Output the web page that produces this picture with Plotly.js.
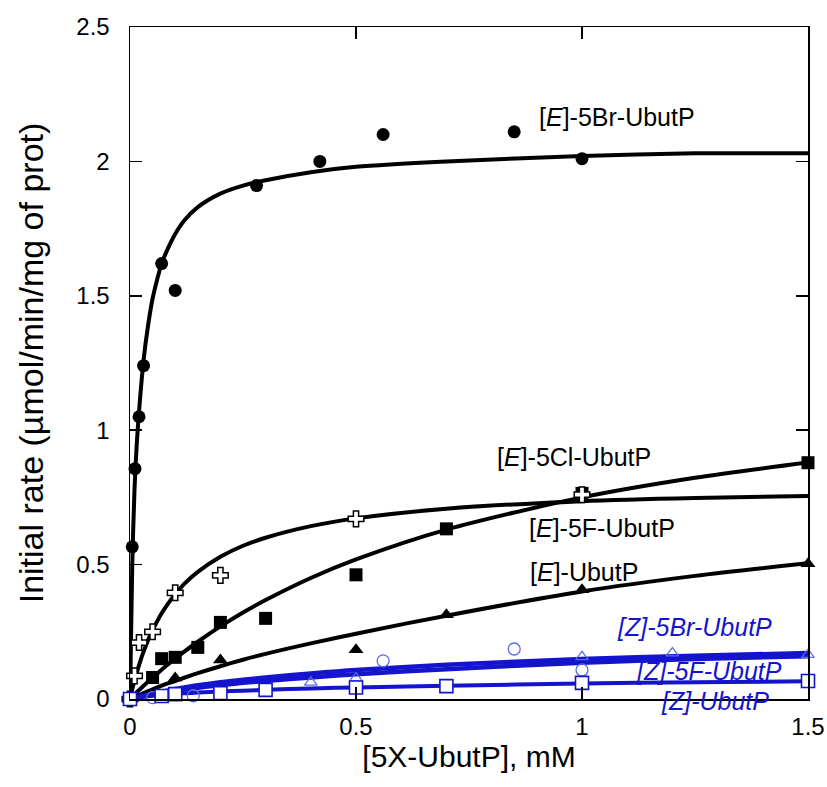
<!DOCTYPE html>
<html>
<head>
<meta charset="utf-8">
<script src="https://cdn.plot.ly/plotly-3.0.1.min.js"></script>
<style>html,body{margin:0;padding:0;background:#fff;}#chart{width:827px;height:787px;}</style>
</head>
<body>
<div id="chart"></div>
<script>
// ---- measured points ----
const br5E_x = [0.005, 0.011, 0.02, 0.03, 0.07, 0.1, 0.28, 0.42, 0.56, 0.85, 1.0];
const br5E_y = [0.566, 0.857, 1.05, 1.24, 1.62, 1.52, 1.91, 2.00, 2.10, 2.11, 2.01];

const cl5E_x = [0, 0.01, 0.02, 0.05, 0.1, 0.2, 0.5, 1.0];
const cl5E_y = [0, 0.086, 0.21, 0.25, 0.395, 0.46, 0.67, 0.76];

const f5E_x = [0, 0.05, 0.07, 0.1, 0.15, 0.2, 0.3, 0.5, 0.7, 1.0, 1.5];
const f5E_y = [0, 0.08, 0.15, 0.155, 0.192, 0.285, 0.30, 0.462, 0.633, 0.765, 0.879];

const hE_x = [0, 0.1, 0.2, 0.5, 0.7, 1.0, 1.5];
const hE_y = [0, 0.078, 0.145, 0.183, 0.313, 0.406, 0.503];

const br5Z_x = [0.05, 0.14, 0.56, 0.85, 1.0];
const br5Z_y = [0.005, 0.012, 0.142, 0.186, 0.108];

const f5Z_x = [0, 0.4, 0.5, 1.0, 1.2, 1.5];
const f5Z_y = [0, 0.062, 0.078, 0.157, 0.171, 0.165];

const hZ_x = [0, 0.07, 0.1, 0.2, 0.3, 0.5, 0.7, 1.0, 1.5];
const hZ_y = [0, 0.011, 0.018, 0.022, 0.034, 0.043, 0.048, 0.060, 0.067];

// ---- fitted curves ----
const fitX      = [0, 0.005, 0.01, 0.015, 0.02, 0.03, 0.04, 0.05, 0.06, 0.07, 0.085, 0.1, 0.12, 0.15, 0.2, 0.25, 0.3, 0.4, 0.5, 0.7, 1.0, 1.25, 1.5];
const br5E_fit  = [0, 0.50, 0.78, 0.95, 1.07, 1.26, 1.39, 1.49, 1.56, 1.62, 1.68, 1.73, 1.78, 1.83, 1.88, 1.91, 1.93, 1.96, 1.98, 2.00, 2.02, 2.03, 2.03];
const cl5E_fit  = [0, 0.036, 0.068, 0.098, 0.126, 0.176, 0.219, 0.256, 0.289, 0.319, 0.357, 0.39, 0.428, 0.473, 0.529, 0.570, 0.60, 0.643, 0.672, 0.708, 0.736, 0.748, 0.755];
const f5E_fit   = [0, 0.008, 0.017, 0.025, 0.033, 0.049, 0.064, 0.079, 0.094, 0.109, 0.130, 0.15, 0.176, 0.213, 0.27, 0.322, 0.368, 0.45, 0.519, 0.63, 0.75, 0.823, 0.88];
const hE_fit    = [0, 0.004, 0.008, 0.011, 0.015, 0.022, 0.029, 0.036, 0.043, 0.05, 0.059, 0.067, 0.079, 0.096, 0.122, 0.146, 0.168, 0.207, 0.243, 0.31, 0.40, 0.458, 0.505];
const br5Z_fit  = [0, 0.002, 0.004, 0.006, 0.008, 0.012, 0.016, 0.020, 0.024, 0.027, 0.032, 0.037, 0.043, 0.051, 0.062, 0.072, 0.080, 0.095, 0.108, 0.127, 0.149, 0.161, 0.171];
const f5Z_fit   = [0, 0.0018, 0.0035, 0.005, 0.007, 0.010, 0.013, 0.016, 0.019, 0.022, 0.026, 0.030, 0.035, 0.042, 0.051, 0.060, 0.067, 0.080, 0.092, 0.111, 0.135, 0.149, 0.159];
const hZ_fit    = [0, 0.002, 0.004, 0.005, 0.006, 0.008, 0.010, 0.012, 0.013, 0.015, 0.017, 0.019, 0.021, 0.024, 0.028, 0.031, 0.034, 0.039, 0.043, 0.049, 0.058, 0.062, 0.066];

const labels = ["[<i>E</i>]-5Br-UbutP", "[<i>E</i>]-5Cl-UbutP", "[<i>E</i>]-5F-UbutP", "[<i>E</i>]-UbutP",
                "<i>[Z]-5Br-UbutP</i>", "<i>[Z]-5F-UbutP</i>", "<i>[Z]-UbutP</i>"];
const labelX = [0.9, 0.808, 0.878, 0.88, 1.073, 1.114, 1.17];
const labelY = [2.165, 0.90, 0.637, 0.473, 0.268, 0.104, 0.0];

const BLUE = '#1414cc';
const FONT = 'Liberation Sans, Arial, sans-serif';

function fit(y, color, w) {
  return {x: fitX, y: y, mode: 'lines', line: {color: color, width: w, shape: 'spline', smoothing: 0.8},
          hoverinfo: 'skip', showlegend: false, cliponaxis: false};
}
function pts(x, y, marker) {
  return {x: x, y: y, mode: 'markers', marker: marker, showlegend: false, cliponaxis: false};
}

const data = [
  fit(br5E_fit, '#000', 4),
  fit(cl5E_fit, '#000', 4),
  fit(f5E_fit, '#000', 4),
  fit(hE_fit, '#000', 4),
  pts(br5E_x, br5E_y, {symbol: 'circle', size: 13, color: '#000'}),
  pts(f5E_x, f5E_y, {symbol: 'square', size: 13, color: '#000'}),
  pts(hE_x, hE_y, {symbol: 'triangle-up', size: 13, color: '#000'}),
  pts(cl5E_x, cl5E_y, {symbol: 'cross', size: 13, color: '#fff', line: {color: '#000', width: 1.5}}),
  fit(br5Z_fit, BLUE, 4.5),
  fit(f5Z_fit, BLUE, 4.5),
  fit(hZ_fit, BLUE, 4),
  pts(br5Z_x, br5Z_y, {symbol: 'circle-open', size: 12, color: '#5a6ae8', line: {width: 1.3}}),
  pts(f5Z_x, f5Z_y, {symbol: 'triangle-up-open', size: 11, color: '#5a6ae8', line: {width: 1.2}}),
  pts(hZ_x, hZ_y, {symbol: 'square', size: 13, color: '#fff', line: {color: BLUE, width: 1.6}})
];

const annotations = labels.map((t, i) => ({
  x: labelX[i], y: labelY[i], xref: 'x', yref: 'y', text: t, showarrow: false,
  xanchor: 'left', yanchor: 'middle', yshift: i === 6 ? -2 : 0,
  font: {family: FONT, size: 25, color: i >= 4 ? BLUE : '#000'}
}));

const axisCommon = {
  showgrid: false, zeroline: false, showline: true, linecolor: '#000', linewidth: 1.5,
  mirror: 'ticks', ticks: 'inside', ticklen: 12, tickwidth: 1.5, tickcolor: '#000',
  tickfont: {family: FONT, size: 24, color: '#000'}, dtick: 0.5, tick0: 0
};

const layout = {
  width: 827, height: 787,
  margin: {l: 130, r: 19, t: 27, b: 88},
  paper_bgcolor: '#fff', plot_bgcolor: '#fff',
  font: {family: FONT, color: '#000'},
  xaxis: Object.assign({}, axisCommon, {
    range: [0, 1.5], ticklabelstandoff: 6,
    title: {text: '[5X-UbutP], mM', font: {family: FONT, size: 30, color: '#000'}, standoff: 2}
  }),
  yaxis: Object.assign({}, axisCommon, {
    range: [0, 2.5], ticklabelstandoff: 14,
    title: {text: 'Initial rate (µmol/min/mg of prot)', font: {family: FONT, size: 34, color: '#000'}, standoff: 22}
  }),
  annotations: annotations
};

Plotly.newPlot('chart', data, layout, {displayModeBar: false, staticPlot: true});
</script>
</body>
</html>
